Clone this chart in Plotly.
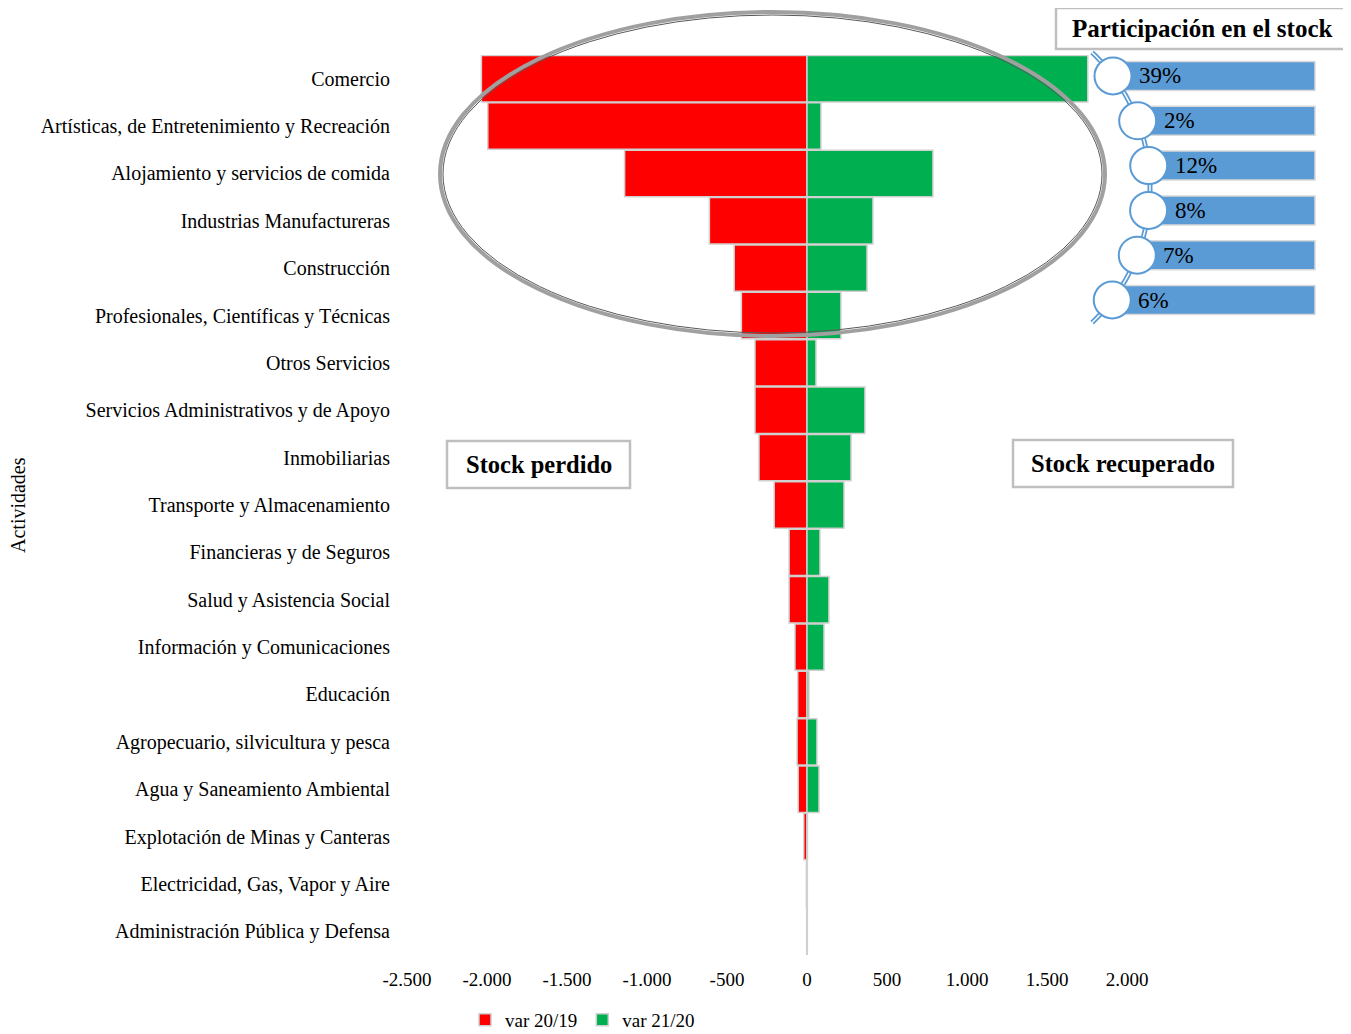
import numpy as np
import plotly.graph_objects as go

# ---------------- data ----------------
categories = [
    "Comercio",
    "Artísticas, de Entretenimiento y Recreación",
    "Alojamiento y servicios de comida",
    "Industrias Manufactureras",
    "Construcción",
    "Profesionales, Científicas y Técnicas",
    "Otros Servicios",
    "Servicios Administrativos y de Apoyo",
    "Inmobiliarias",
    "Transporte y Almacenamiento",
    "Financieras y de Seguros",
    "Salud y Asistencia Social",
    "Información y Comunicaciones",
    "Educación",
    "Agropecuario, silvicultura y pesca",
    "Agua y Saneamiento Ambiental",
    "Explotación de Minas y Canteras",
    "Electricidad, Gas, Vapor y Aire",
    "Administración Pública y Defensa",
]
var_20_19 = [-2035, -1995, -1140, -610, -455, -410, -325, -325, -300, -205,
             -112, -112, -75, -58, -62, -55, -20, -4, -2]
var_21_20 = [1755, 87, 787, 412, 375, 212, 56, 362, 275, 231,
             81, 137, 106, 12, 62, 75, 3, 2, 2]
series_names = ["var 20/19", "var 21/20"]

tick_vals = [-2500, -2000, -1500, -1000, -500, 0, 500, 1000, 1500, 2000]
tick_text = ["-2.500", "-2.000", "-1.500", "-1.000", "-500", "0", "500", "1.000", "1.500", "2.000"]

participation = [39, 2, 12, 8, 7, 6]

# ---------------- layout helpers ----------------
OFF = 8                      # page body margin
W, H = 1351 - OFF, 1034 - OFF
PL, PR, PT, PB = 407, 1127, 55, 955   # plot area in screen pixels
L, T = PL - OFF, PT - OFF
R, B = W - (PR - OFF), H - (PB - OFF)
PW, PH = PR - PL, PB - PT


def px(x):
    return (x - PL) / PW


def py(y):
    return (PB - y) / PH


FONT = "Liberation Serif"
RED = "#ff0000"
GREEN = "#00b050"
BLUE = "#5b9bd5"
EDGE = "#d0d0d0"

fig = go.Figure()
fig.add_trace(go.Bar(y=categories, x=var_20_19, orientation="h", name=series_names[0],
                     marker=dict(color=RED, line=dict(color=EDGE, width=1.5))))
fig.add_trace(go.Bar(y=categories, x=var_21_20, orientation="h", name=series_names[1],
                     marker=dict(color=GREEN, line=dict(color=EDGE, width=1.5))))

shapes = []
annotations = []

# ellipse highlight
shapes.append(dict(type="circle", xref="paper", yref="paper",
                   x0=px(440), x1=px(1105), y0=py(336), y1=py(12),
                   line=dict(color="#a0a0a0", width=4)))
shapes.append(dict(type="circle", xref="paper", yref="paper",
                   x0=px(443), x1=px(1102), y0=py(333), y1=py(15),
                   line=dict(color="#595959", width=1)))


# label boxes
def box(x0, y0, x1, y1, text, size):
    shapes.append(dict(type="rect", xref="paper", yref="paper",
                       x0=px(x0), x1=px(x1), y0=py(y1), y1=py(y0),
                       line=dict(color="#bfbfbf", width=2.5), fillcolor="white"))
    annotations.append(dict(xref="paper", yref="paper", x=px((x0 + x1) / 2), y=py((y0 + y1) / 2),
                            text="<b>" + text + "</b>", showarrow=False,
                            font=dict(family=FONT, size=size, color="black"),
                            xanchor="center", yanchor="middle"))


box(447, 441, 630, 488, "Stock perdido", 24.5)
box(1013, 440, 1233, 487, "Stock recuperado", 24.5)
box(1056, 8, 1348, 49, "Participación en el stock", 25)

# participation smart-art: arc with circles and blue bars
cx, cy, rad = 963.5, 187.5, 186.5
ang = np.linspace(-0.81, 0.81, 60)
ax_ = cx + rad * np.cos(ang)
ay_ = cy + rad * np.sin(ang)
path = "M " + " L ".join(f"{px(a):.5f},{py(b):.5f}" for a, b in zip(ax_, ay_))
shapes.append(dict(type="path", xref="paper", yref="paper", path=path,
                   line=dict(color=BLUE, width=5)))
shapes.append(dict(type="path", xref="paper", yref="paper", path=path,
                   line=dict(color="white", width=1.5)))

row_y0, row_step = 76, 44.8
for k, val in enumerate(participation):
    yc = row_y0 + row_step * k
    xc = cx + np.sqrt(rad ** 2 - (yc - cy) ** 2)
    shapes.append(dict(type="rect", xref="paper", yref="paper",
                       x0=px(xc), x1=px(1315), y0=py(yc + 14.5), y1=py(yc - 14.5),
                       line=dict(color="#d9d9d9", width=1.5), fillcolor=BLUE))
    shapes.append(dict(type="circle", xref="paper", yref="paper",
                       x0=px(xc - 18.5), x1=px(xc + 18.5), y0=py(yc + 18.5), y1=py(yc - 18.5),
                       line=dict(color=BLUE, width=2), fillcolor="white"))
    annotations.append(dict(xref="paper", yref="paper", x=px(xc + 24), y=py(yc),
                            text=f"{val}%", showarrow=False,
                            font=dict(family=FONT, size=23, color="black"),
                            xanchor="left", yanchor="middle"))

# y axis title
annotations.append(dict(xref="paper", yref="paper", x=px(18), y=py(505), text="Actividades",
                        showarrow=False, textangle=-90,
                        font=dict(family=FONT, size=20, color="black"),
                        xanchor="center", yanchor="middle"))

fig.update_layout(
    width=W, height=H, autosize=False,
    margin=dict(l=L, r=R, t=T, b=B, pad=0),
    paper_bgcolor="white", plot_bgcolor="white",
    barmode="relative", bargap=0.02,
    font=dict(family=FONT, size=19, color="black"),
    showlegend=True,
    legend=dict(orientation="h", xref="container", yref="container",
                x=(465 - OFF) / W, y=1 - (1001 - OFF) / H, xanchor="left", yanchor="top",
                font=dict(family=FONT, size=19, color="black"),
                itemwidth=30, traceorder="normal", bgcolor="rgba(0,0,0,0)"),
    shapes=shapes, annotations=annotations,
)
fig.update_xaxes(range=[-2500, 2000], tickvals=tick_vals, ticktext=tick_text,
                 showgrid=False, zeroline=False, showline=False, ticks="",
                 ticklabelstandoff=11, tickfont=dict(family=FONT, size=19))
fig.update_yaxes(type="category", autorange="reversed", showgrid=False, zeroline=False,
                 showline=False, ticks="", ticklabelstandoff=16,
                 tickfont=dict(family=FONT, size=20))

fig.write_html("out.html")
